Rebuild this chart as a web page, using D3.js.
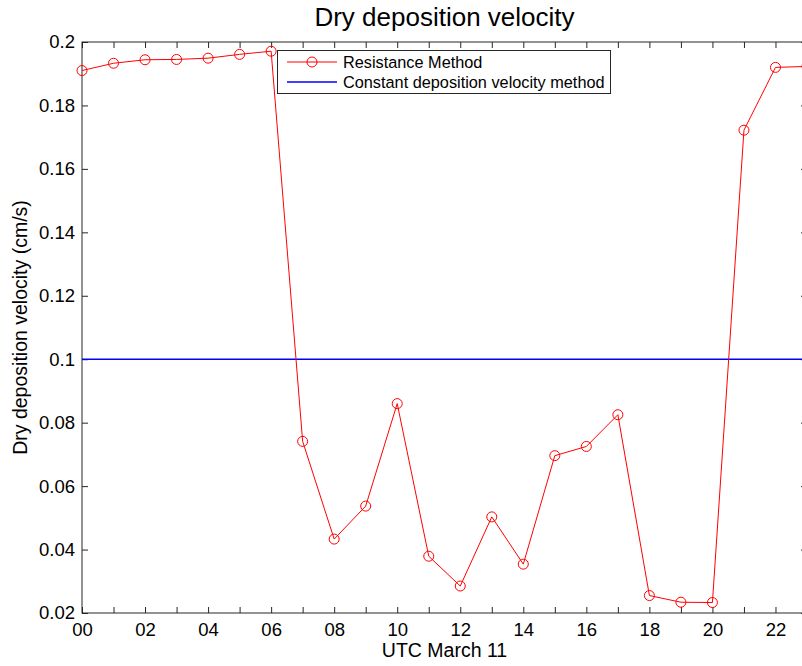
<!DOCTYPE html>
<html>
<head>
<meta charset="utf-8">
<script src="https://cdn.jsdelivr.net/npm/d3@7"></script>
<style>
  body { margin: 0; background: #fff; }
  svg { display: block; font-family: "Liberation Sans", Arial, sans-serif; }
</style>
</head>
<body>
<svg id="chart" width="802" height="666"></svg>
<script>
// hours of March 11 (UTC)
const hours = [0, 1, 2, 3, 4, 5, 6, 7, 8, 9, 10, 11, 12, 13, 14, 15, 16, 17, 18, 19, 20, 21, 22, 23];
// resistance method dry deposition velocity (cm/s)
const resistance = [0.1910, 0.1933, 0.1944, 0.1945, 0.1949, 0.1961, 0.1971, 0.0741, 0.0433, 0.0537,
  0.0860, 0.0379, 0.0285, 0.0503, 0.0354, 0.0696, 0.0725, 0.0825, 0.0255, 0.0234,
  0.0233, 0.1722, 0.1920, 0.1923];
// constant deposition velocity method
const constantVel = 0.1;
const xTickLabels = ["00", "02", "04", "06", "08", "10", "12", "14", "16", "18", "20", "22"];
const yTicks = [0.02, 0.04, 0.06, 0.08, 0.1, 0.12, 0.14, 0.16, 0.18, 0.2];

const svg = d3.select("#chart");
const margin = {top: 42, left: 82, bottom: 53};
const plotRight = 807; // right edge sits just outside the window
const height = 666 - margin.bottom;

const x = d3.scaleLinear().domain([0, 23]).range([margin.left, plotRight]);
const y = d3.scaleLinear().domain([0.02, 0.2]).range([height, margin.top]);

const axisColor = "#262626";
const tickLen = 6;
const tickFont = "18.5px";

// frame
svg.append("rect")
  .attr("x", margin.left).attr("y", margin.top)
  .attr("width", plotRight - margin.left).attr("height", height - margin.top)
  .attr("fill", "none").attr("stroke", axisColor).attr("stroke-width", 1);

// x ticks on bottom and top (inward), labels every 2 hours
const gx = svg.append("g").attr("transform", `translate(0,${height})`)
  .call(d3.axisBottom(x).tickValues(hours).tickSizeInner(-tickLen).tickSizeOuter(0)
    .tickFormat(d => d % 2 === 0 ? xTickLabels[d / 2] : ""));
gx.select(".domain").remove();
gx.selectAll(".tick line").attr("stroke", axisColor);
gx.selectAll(".tick text").attr("y", 10).attr("fill", "#000")
  .style("font-size", tickFont);

const gxTop = svg.append("g").attr("transform", `translate(0,${margin.top})`)
  .call(d3.axisTop(x).tickValues(hours).tickSizeInner(-tickLen).tickSizeOuter(0).tickFormat(""));
gxTop.select(".domain").remove();
gxTop.selectAll(".tick line").attr("stroke", axisColor);

// y ticks on left and right (inward)
const gy = svg.append("g").attr("transform", `translate(${margin.left},0)`)
  .call(d3.axisLeft(y).tickValues(yTicks).tickSizeInner(-tickLen).tickSizeOuter(0)
    .tickFormat(d => d3.format("")(+d.toFixed(2))));
gy.select(".domain").remove();
gy.selectAll(".tick line").attr("stroke", axisColor);
gy.selectAll(".tick text").attr("x", -7).attr("fill", "#000")
  .style("font-size", tickFont);

const gyRight = svg.append("g").attr("transform", `translate(${plotRight},0)`)
  .call(d3.axisRight(y).tickValues(yTicks).tickSizeInner(-tickLen).tickSizeOuter(0).tickFormat(""));
gyRight.select(".domain").remove();
gyRight.selectAll(".tick line").attr("stroke", axisColor);

// constant method line
svg.append("line")
  .attr("x1", x(0)).attr("x2", x(23))
  .attr("y1", y(constantVel)).attr("y2", y(constantVel))
  .attr("stroke", "#0000ff").attr("stroke-width", 1.5);

// resistance method line + circles
const pts = hours.map((h, i) => [h, resistance[i]]);
svg.append("path")
  .datum(pts)
  .attr("fill", "none").attr("stroke", "#ff0000").attr("stroke-width", 1)
  .attr("d", d3.line().x(d => x(d[0])).y(d => y(d[1])));

svg.append("g").selectAll("circle")
  .data(pts)
  .join("circle")
  .attr("cx", d => x(d[0])).attr("cy", d => y(d[1]))
  .attr("r", 5).attr("fill", "none").attr("stroke", "#ff0000").attr("stroke-width", 1);

// title and axis labels
svg.append("text")
  .attr("x", (margin.left + plotRight) / 2).attr("y", 26)
  .attr("text-anchor", "middle").style("font-size", "26px")
  .text("Dry deposition velocity");

svg.append("text")
  .attr("x", (margin.left + plotRight) / 2).attr("y", 657)
  .attr("text-anchor", "middle").style("font-size", "19.5px")
  .text("UTC March 11");

svg.append("text")
  .attr("transform", `translate(27,${(margin.top + height) / 2}) rotate(-90)`)
  .attr("text-anchor", "middle").style("font-size", "19.5px")
  .text("Dry deposition velocity (cm/s)");

// legend
const legend = svg.append("g");
legend.append("rect")
  .attr("x", 277.5).attr("y", 50.5).attr("width", 333).attr("height", 43)
  .attr("fill", "#fff").attr("stroke", axisColor).attr("stroke-width", 1);

const legendItems = [
  {label: "Resistance Method", color: "#ff0000", marker: true},
  {label: "Constant deposition velocity method", color: "#0000ff", marker: false}
];
legendItems.forEach((item, i) => {
  const ly = 62 + i * 20;
  legend.append("line")
    .attr("x1", 287).attr("x2", 337).attr("y1", ly).attr("y2", ly)
    .attr("stroke", item.color).attr("stroke-width", item.marker ? 1 : 1.5);
  if (item.marker) {
    legend.append("circle").attr("cx", 312).attr("cy", ly).attr("r", 5)
      .attr("fill", "none").attr("stroke", item.color);
  }
  legend.append("text")
    .attr("x", 343).attr("y", ly + 6)
    .style("font-size", "16.3px")
    .text(item.label);
});
</script>
</body>
</html>
